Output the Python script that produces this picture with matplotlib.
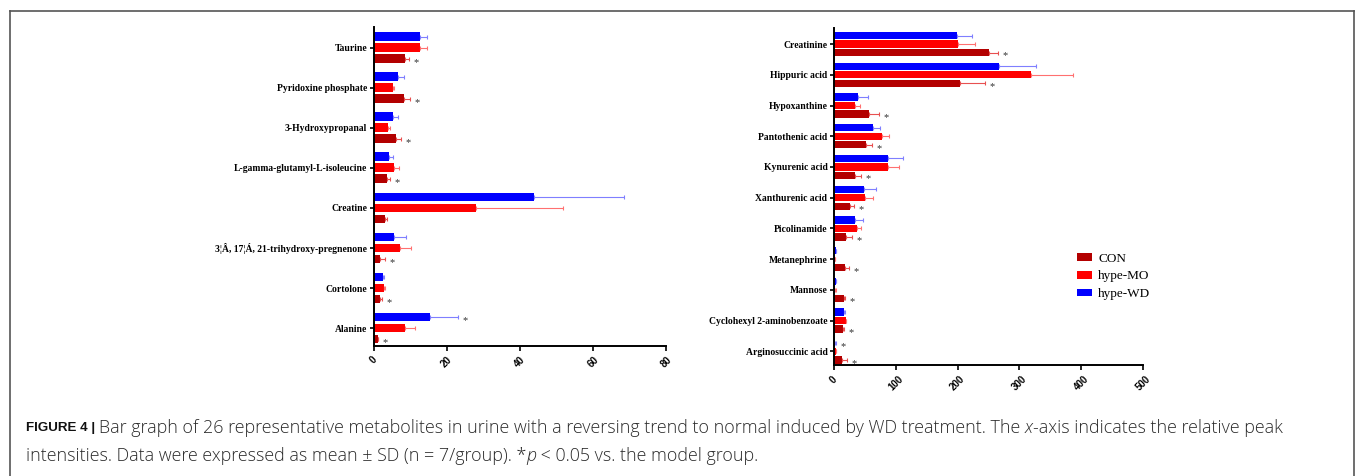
import matplotlib
matplotlib.use("Agg")
import matplotlib.pyplot as plt
from matplotlib.lines import Line2D
from matplotlib.patches import Patch
import numpy as np

# ---- data ----
left_names = ["Taurine", "Pyridoxine phosphate", "3-Hydroxypropanal",
              "L-gamma-glutamyl-L-isoleucine", "Creatine",
              "3¦Â, 17¦Á, 21-trihydroxy-pregnenone", "Cortolone", "Alanine"]
left_wd = [12.7, 6.7, 5.3, 4.2, 43.8, 5.7, 2.6, 15.5]
left_wd_sd = [2.0, 1.6, 1.5, 1.2, 24.7, 3.3, 0.3, 7.7]
left_mo = [12.8, 5.4, 4.1, 5.7, 28.0, 7.3, 3.0, 8.5]
left_mo_sd = [1.9, 0.3, 0.5, 1.4, 23.9, 3.0, 0.2, 2.9]
left_con = [8.7, 8.4, 6.1, 3.8, 3.1, 1.8, 1.8, 1.1]
left_con_sd = [0.9, 1.7, 1.55, 0.8, 0.6, 1.4, 0.5, 0.1]
left_wd_star = [0, 0, 0, 0, 0, 0, 0, 1]
left_con_star = [1, 1, 1, 1, 0, 1, 1, 1]

right_names = ["Creatinine", "Hippuric acid", "Hypoxanthine", "Pantothenic acid",
               "Kynurenic acid", "Xanthurenic acid", "Picolinamide", "Metanephrine",
               "Mannose", "Cyclohexyl 2-aminobenzoate", "Arginosuccinic acid"]
right_wd = [199, 267, 40, 63, 88, 49.6, 34.5, 3.8, 3.2, 16.7, 2.7]
right_wd_sd = [25, 59, 15.6, 12.4, 24, 19.4, 13.5, 0.5, 0.4, 1.1, 0.5]
right_mo = [201, 318, 34, 78, 88, 51.2, 38.3, 1.6, 2.7, 19.4, 3.2]
right_mo_sd = [28, 69, 8, 11, 18, 12.8, 6.4, 0.3, 0.3, 1.1, 0.6]
right_con = [250, 204, 56.6, 52.8, 34.5, 25.9, 19.9, 18.3, 16.7, 15.1, 14.0]
right_con_sd = [15, 41, 17, 9.7, 9.5, 7.0, 9.7, 5.9, 2.2, 1.6, 7.5]
right_wd_star = [0, 0, 0, 0, 0, 0, 0, 0, 0, 0, 1]
right_con_star = [1] * 11

groups = ["CON", "hype-MO", "hype-WD"]
colors = {"CON": "#B30000", "hype-MO": "#FF0000", "hype-WD": "#0000FF"}
err_colors = {"CON": "#E85050", "hype-MO": "#FF7070", "hype-WD": "#7F7FFF"}

SERIF = "Liberation Serif"
SANS = "Liberation Sans"

W, H = 1355, 476
fig = plt.figure(figsize=(W / 100, H / 100), dpi=100)


def px_axes(x0, y0, x1, y1):
    return fig.add_axes([x0 / W, 1 - y1 / H, (x1 - x0) / W, (y1 - y0) / H])


def panel(ax, names, series, xmax, ticks, pitch, bh):
    n = len(names)
    y = np.arange(n)
    offs = {"hype-WD": -pitch, "hype-MO": 0.0, "CON": pitch}
    for g, (vals, sds, stars) in series.items():
        vals = np.asarray(vals, float)
        sds = np.asarray(sds, float)
        ax.barh(y + offs[g], vals, height=bh, color=colors[g],
                xerr=[np.zeros(n), sds],
                error_kw=dict(ecolor=err_colors[g], elinewidth=0.8,
                              capsize=1.3, capthick=0.8))
        for i in range(n):
            if stars[i]:
                ax.annotate("*", (vals[i] + sds[i], y[i] + offs[g]),
                            xytext=(3.2, -2.5), textcoords="offset points",
                            ha="left", va="center", fontsize=7.5,
                            family=SERIF, color="#333333")
    top = -pitch - bh / 2 - 0.125
    bot = (n - 1) + pitch + bh / 2 + 0.055
    ax.set_ylim(bot, top)
    ax.set_xlim(0, xmax)
    ax.set_yticks(y)
    ax.set_yticklabels(names, family=SERIF, fontweight="bold", fontsize=6.9)
    ax.set_xticks(ticks)
    ax.set_xticklabels([str(t) for t in ticks], family=SANS, fontweight="bold",
                       fontsize=7, rotation=45, ha="center", va="top")
    for s in ("top", "right"):
        ax.spines[s].set_visible(False)
    for s in ("left", "bottom"):
        ax.spines[s].set_linewidth(1.4)
    ax.tick_params(axis="y", length=3, width=1.2, pad=1.5)
    ax.tick_params(axis="x", length=3.5, width=1.2, pad=3)


ax1 = px_axes(373.5, 27.3, 666, 345.7)
panel(ax1, left_names,
      {"hype-WD": (left_wd, left_wd_sd, left_wd_star),
       "hype-MO": (left_mo, left_mo_sd, [0] * 8),
       "CON": (left_con, left_con_sd, left_con_star)},
      80, [0, 20, 40, 60, 80], 0.275, 0.22)

ax2 = px_axes(833.7, 28, 1143.3, 365.3)
panel(ax2, right_names,
      {"hype-WD": (right_wd, right_wd_sd, right_wd_star),
       "hype-MO": (right_mo, right_mo_sd, [0] * 11),
       "CON": (right_con, right_con_sd, right_con_star)},
      500, [0, 100, 200, 300, 400, 500], 0.277, 0.24)

handles = [Patch(facecolor=colors[g], edgecolor="none", label=g) for g in groups]
fig.legend(handles=handles, loc="upper left", bbox_to_anchor=(1066 / W, 1 - 242 / H),
           frameon=False, prop=dict(family=SERIF, size=9.5), handlelength=1.2,
           handleheight=0.55, labelspacing=0.44, handletextpad=0.45,
           borderpad=0.3)

# frame around the figure panel
frame_kw = dict(color="#555555", lw=1.2, transform=fig.transFigure)
fig.add_artist(Line2D([9.5 / W, 9.5 / W], [1 - 11 / H, -0.01], **frame_kw))
fig.add_artist(Line2D([9.5 / W, 1353.5 / W], [1 - 11 / H, 1 - 11 / H], **frame_kw))
fig.add_artist(Line2D([1353.5 / W, 1353.5 / W], [1 - 11 / H, -0.01], **frame_kw))

# caption with mixed styles
caption_lines = [
    [("FIGURE 4 | ", "bold", "normal"),
     ("Bar graph of 26 representative metabolites in urine with a reversing trend to "
      "normal induced by WD treatment. The ", "normal", "normal"),
     ("x", "normal", "italic"),
     ("-axis indicates the relative peak", "normal", "normal")],
    [("intensities. Data were expressed as mean ± SD (n = 7/group). *", "normal", "normal"),
     ("p", "normal", "italic"),
     (" < 0.05 vs. the model group.", "normal", "normal")],
]
caption_y = [428, 456]
fig.canvas.draw()
renderer = fig.canvas.get_renderer()
for segs, yy in zip(caption_lines, caption_y):
    x = 26.0
    for txt, wt, st in segs:
        if wt == "bold":
            kw = dict(family=SANS, fontweight="bold", fontsize=9.6, color="#111111")
        else:
            kw = dict(family="Open Sans", fontweight="light", fontsize=12.9,
                      color="#2a2a2a")
        t = fig.text(x / W, 1 - yy / H, txt, style=st, ha="left", va="center", **kw)
        bb = t.get_window_extent(renderer=renderer)
        x += bb.width

fig.savefig("out.png", dpi=100)
